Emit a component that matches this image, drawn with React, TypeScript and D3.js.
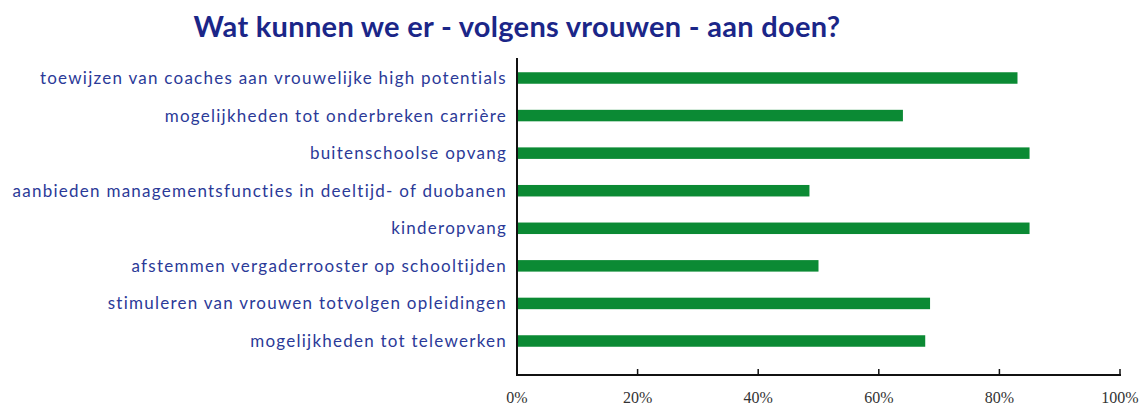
import React, { useEffect, useRef } from 'react';
import * as d3 from 'd3';

const title = 'Wat kunnen we er - volgens vrouwen - aan doen?';

const categories = [
  'toewijzen van coaches aan vrouwelijke high potentials',
  'mogelijkheden tot onderbreken carrière',
  'buitenschoolse opvang',
  'aanbieden managementsfuncties in deeltijd- of duobanen',
  'kinderopvang',
  'afstemmen vergaderrooster op schooltijden',
  'stimuleren van vrouwen totvolgen opleidingen',
  'mogelijkheden tot telewerken',
];

const values = [83, 64, 85, 48.5, 85, 50, 68.5, 67.7];

const ticks = [0, 20, 40, 60, 80, 100];

const App = () => {
  const svgRef = useRef<SVGSVGElement>(null);

  useEffect(() => {
    const svg = d3.select(svgRef.current);
    svg.selectAll('*').remove();

    const x = d3.scaleLinear().domain([0, 100]).range([517, 1120]);
    const y = d3.scalePoint<string>().domain(categories).range([78, 341]);
    const barH = 11.5;
    const axisY = 375;

    svg.append('text')
      .attr('x', 517)
      .attr('y', 37)
      .attr('text-anchor', 'middle')
      .attr('font-family', 'Lato, sans-serif')
      .attr('font-weight', 'bold')
      .attr('font-size', 29)
      .attr('letter-spacing', 0.3)
      .attr('fill', '#1b2688')
      .text(title);

    // bars
    svg.selectAll('.bar')
      .data(values)
      .enter().append('rect')
      .attr('class', 'bar')
      .attr('x', x(0))
      .attr('y', (d, i) => (y(categories[i]) as number) - barH / 2)
      .attr('width', d => x(d) - x(0))
      .attr('height', barH)
      .attr('fill', '#0b8a34');

    // category labels
    svg.selectAll('.cat')
      .data(categories)
      .enter().append('text')
      .attr('class', 'cat')
      .attr('x', 507)
      .attr('y', d => y(d) as number)
      .attr('dy', '0.35em')
      .attr('text-anchor', 'end')
      .attr('font-family', 'Lato, sans-serif')
      .attr('font-size', 17)
      .attr('letter-spacing', 1.25)
      .attr('fill', '#2b3a98')
      .text(d => d);

    // axes
    svg.append('line')
      .attr('x1', x(0)).attr('x2', x(0))
      .attr('y1', 58).attr('y2', axisY)
      .attr('stroke', '#111').attr('stroke-width', 2);

    svg.append('line')
      .attr('x1', x(0) - 1).attr('x2', x(100) + 1)
      .attr('y1', axisY).attr('y2', axisY)
      .attr('stroke', '#111').attr('stroke-width', 2);

    svg.selectAll('.tick')
      .data(ticks)
      .enter().append('line')
      .attr('class', 'tick')
      .attr('x1', d => x(d)).attr('x2', d => x(d))
      .attr('y1', axisY - 6).attr('y2', axisY)
      .attr('stroke', '#111').attr('stroke-width', 1.5);

    svg.selectAll('.tlabel')
      .data(ticks)
      .enter().append('text')
      .attr('class', 'tlabel')
      .attr('x', d => x(d))
      .attr('y', 403)
      .attr('text-anchor', 'middle')
      .attr('font-family', '"Liberation Serif", serif')
      .attr('font-size', 16)
      .attr('fill', '#333')
      .text(d => `${d}%`);
  }, []);

  return (
    <svg
      ref={svgRef}
      width={1146}
      height={407}
      style={{ position: 'absolute', left: 0, top: 0, background: '#fff' }}
    ></svg>
  );
};

export default App;
